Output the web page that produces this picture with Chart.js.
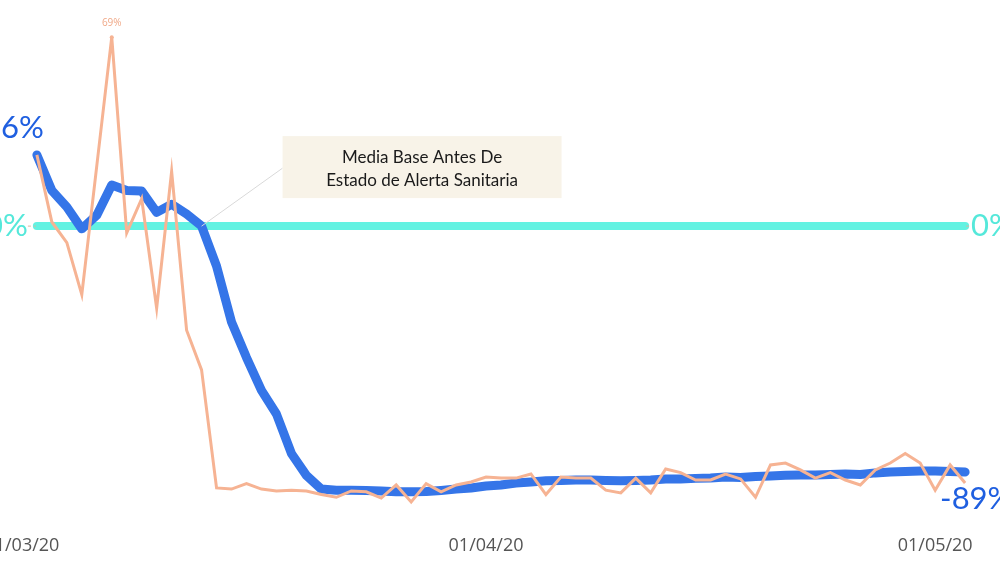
<!DOCTYPE html>
<html>
<head>
<meta charset="utf-8">
<script src="https://cdn.jsdelivr.net/npm/chart.js@4"></script>
<style>
  html, body { margin: 0; padding: 0; background: #fff; overflow: hidden; }
  #wrap { position: relative; width: 1000px; height: 567px; overflow: hidden; }
  #chart { position: absolute; left: -40px; top: 0; }
</style>
</head>
<body>
<div id="wrap">
  <canvas id="chart" width="1080" height="567"></canvas>
</div>
<script>
// days counted from 01/03/20 (day 0); series begins on 02/03/20
const startDay = 1;
const tickDays = [0, 31, 61];
const tickLabels = ['01/03/20', '01/04/20', '01/05/20'];

// thick blue line: media movil (% vs base)
const mediaMovil = [
    26, 13, 7, -1, 4, 15, 13, 12.8, 5, 8,
    4.4, 0, -14.6, -35, -48, -60, -68.6, -83, -91, -96,
    -96.4, -96.4, -96.5, -96.7, -97, -97, -96.9, -96.5, -96, -95.6,
    -94.9, -94.5, -93.8, -93.4, -93, -92.9, -92.7, -92.7, -92.9, -93,
    -92.9, -92.7, -92.3, -92.3, -92.1, -92, -91.6, -91.8, -91.4, -91.2,
    -91, -90.9, -90.9, -90.7, -90.5, -90.7, -90.1, -89.8, -89.6, -89.4,
    -89.4, -89.6, -89.8
];

// thin orange line: valor diario (% vs base)
const diario = [
    26, 1.5, -6, -25, 22, 69, -2.5, 10, -30, 20,
    -38, -52.5, -95.6, -96, -94, -96, -96.7, -96.4, -96.7, -98,
    -99, -96.7, -97, -99.3, -94.5, -100.7, -94, -97, -94.5, -93.4,
    -91.6, -92, -92, -90.5, -98, -91.6, -92, -92, -96.4, -97.4,
    -92, -97.4, -88.7, -90, -92.7, -92.7, -90.5, -92.3, -99, -87.2,
    -86.5, -89, -92, -90, -92.7, -94.5, -89, -86.5, -83, -86.5,
    -96.4, -87.2, -93.8
];

const baseValue = 0;
const annotationIndex = 11;
const annotationLines = ['Media Base Antes De', 'Estado de Alerta Sanitaria'];

const toPoints = arr => arr.map((v, i) => ({ x: startDay + i, y: v }));
const lastDay = startDay + mediaMovil.length - 1;

const labelsPlugin = {
    id: 'labelsPlugin',
    afterDatasetsDraw(chart) {
        const { ctx, scales: { x, y } } = chart;
        ctx.save();

        const firstX = x.getPixelForValue(startDay);
        const lastX = x.getPixelForValue(lastDay);
        const zeroY = y.getPixelForValue(baseValue);

        // dashed leaders for the 0% labels
        ctx.strokeStyle = '#d8b8a0';
        ctx.lineWidth = 1;
        ctx.setLineDash([3, 3]);
        ctx.beginPath();
        ctx.moveTo(firstX - 9, zeroY); ctx.lineTo(firstX - 1, zeroY);
        ctx.moveTo(lastX + 1, zeroY); ctx.lineTo(lastX + 9, zeroY);
        ctx.stroke();
        ctx.setLineDash([]);

        // connector to annotation box
        const ax = x.getPixelForValue(startDay + annotationIndex);
        const ay = y.getPixelForValue(mediaMovil[annotationIndex]);
        const boxL = ax + 81, boxT = ay - 90, boxW = 279, boxH = 62;
        ctx.strokeStyle = '#d9d9d9';
        ctx.beginPath();
        ctx.moveTo(ax, ay);
        ctx.lineTo(boxL, boxT + 32);
        ctx.stroke();

        ctx.fillStyle = '#f8f3e8';
        ctx.fillRect(boxL, boxT, boxW, boxH);
        ctx.fillStyle = '#1a1a1a';
        ctx.font = '17px Lato';
        ctx.textAlign = 'center';
        ctx.textBaseline = 'middle';
        ctx.fillText(annotationLines[0], boxL + boxW / 2, boxT + 21);
        ctx.fillText(annotationLines[1], boxL + boxW / 2, boxT + 44);

        // value labels
        const lastVal = mediaMovil[mediaMovil.length - 1];
        ctx.font = '31px Lato';
        ctx.fillStyle = '#1f5fe0';
        ctx.textAlign = 'right';
        ctx.fillText(mediaMovil[0] + '%', firstX + 7, y.getPixelForValue(mediaMovil[0]) - 27);
        ctx.textAlign = 'left';
        ctx.fillText(Math.trunc(lastVal) + '%', lastX - 25, y.getPixelForValue(lastVal) + 27);

        ctx.fillStyle = '#55e8da';
        ctx.textAlign = 'right';
        ctx.fillText(baseValue + '%', firstX - 9, zeroY);
        ctx.textAlign = 'left';
        ctx.fillText(baseValue + '%', lastX + 6, zeroY);

        // peak label on the daily series
        const peak = Math.max(...diario);
        const pi = diario.indexOf(peak);
        ctx.font = '10px "Open Sans"';
        ctx.fillStyle = '#f0a988';
        ctx.textAlign = 'center';
        ctx.fillText(peak + '%', x.getPixelForValue(startDay + pi), y.getPixelForValue(peak) - 14);

        ctx.restore();
    }
};

new Chart(document.getElementById('chart'), {
    type: 'line',
    data: {
        datasets: [
            {
                label: 'Diario',
                data: toPoints(diario),
                borderColor: '#f6b393',
                borderWidth: 3,
                pointRadius: ctx => ctx.dataIndex === 5 ? 2 : 0,
                pointBackgroundColor: '#f6b393',
                pointBorderWidth: 0,
                tension: 0,
                order: 1
            },
            {
                label: 'Media',
                data: toPoints(mediaMovil),
                borderColor: '#3575e8',
                borderWidth: 9,
                borderCapStyle: 'round',
                borderJoinStyle: 'round',
                pointRadius: 0,
                tension: 0,
                order: 2
            },
            {
                label: 'Base',
                data: [{ x: startDay, y: baseValue }, { x: lastDay, y: baseValue }],
                borderColor: '#62f2e2',
                borderWidth: 8,
                borderCapStyle: 'round',
                pointRadius: 0,
                order: 3
            }
        ]
    },
    options: {
        responsive: false,
        animation: false,
        layout: { padding: { left: 17, right: 15, top: 7, bottom: 2 } },
        plugins: { legend: { display: false }, tooltip: { enabled: false } },
        scales: {
            x: {
                type: 'linear',
                min: -3,
                max: 67,
                grid: { display: false, drawTicks: false },
                border: { display: false },
                afterBuildTicks: axis => { axis.ticks = tickDays.map(v => ({ value: v })); },
                ticks: {
                    padding: 8,
                    color: '#555',
                    font: { family: 'Open Sans', size: 18 },
                    maxRotation: 0,
                    autoSkip: false,
                    callback: v => tickLabels[tickDays.indexOf(v)]
                }
            },
            y: {
                display: false,
                min: -110,
                max: 80
            }
        }
    },
    plugins: [labelsPlugin]
});
</script>
</body>
</html>
